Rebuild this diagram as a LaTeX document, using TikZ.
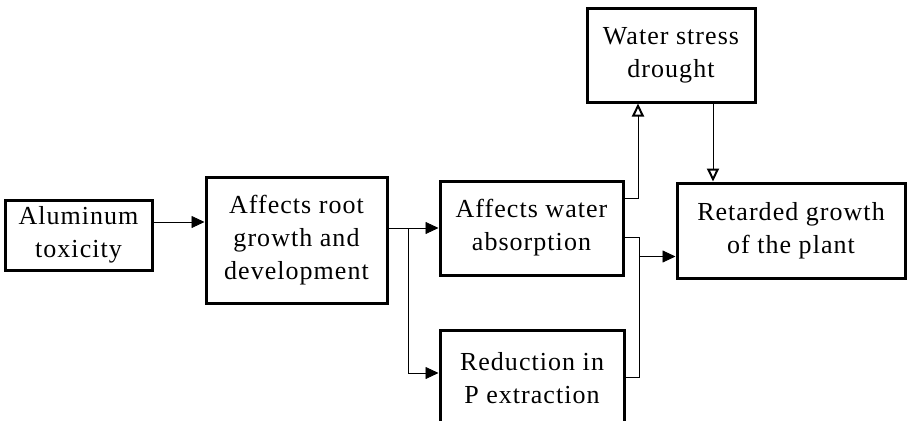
\documentclass[tikz,border=0pt]{standalone}
\usepackage{fontspec}
\setmainfont{Liberation Serif}[LetterSpace=4]
\usetikzlibrary{arrows.meta,calc}

\begin{document}
\begin{tikzpicture}[x=1pt,y=-1pt,
  box/.style={draw,line width=3pt,align=center,inner sep=0pt,
    font={\fontsize{26}{33}\selectfont}},
  arr/.style={line width=0.8pt,-{Triangle[length=13pt,width=12pt]}},
  uparr/.style={line width=0.8pt,-{Triangle[open,length=13pt,width=12pt,line width=2pt]}}]
\useasboundingbox (0,0) rectangle (909,420);
% boxes
\node[box,minimum width=147pt,minimum height=70pt] (alum) at (78.5,235) {Aluminum\\toxicity};
\node[box,minimum width=181pt,minimum height=126pt] (root) at (296.5,240) {Affects root\\growth and\\development};
\node[box,minimum width=183pt,minimum height=94pt] (water) at (531.5,228) {Affects water\\absorption};
\node[box,minimum width=184pt,minimum height=96pt] (red) at (532,378) {Reduction in\\P extraction};
\node[box,minimum width=168pt,minimum height=93pt] (stress) at (671,55.5) {Water stress\\drought};
\node[box,minimum width=228pt,minimum height=95pt] (ret) at (791,230.5) {Retarded growth\\of the plant};
% connectors
\coordinate (a1) at ([yshift=13pt]alum.east);
\draw[arr] (a1) -- (a1 -| root.west);
\draw[arr] (root.east |- water.west) -- (water.west);
\coordinate (fork) at ($(root.east |- water.west)+(20,0)$);
\draw[arr] (fork) |- ([yshift=5pt]red.west);
\coordinate (w1) at ([yshift=30pt]water.east);
\draw[uparr] (w1) -| ([xshift=-33pt]stress.south);
\coordinate (w2) at ([yshift=-9pt]water.east);
\draw[line width=0.8pt] (w2) -- ++(15,0) coordinate (jn) |- ([yshift=1pt]red.east);
\coordinate (r1) at ([yshift=-26pt]ret.west);
\draw[arr] (r1 -| jn) -- (r1);
\coordinate (s1) at ([xshift=42pt]stress.south);
\draw[uparr] (s1) -- (s1 |- ret.north);
\end{tikzpicture}
\end{document}
